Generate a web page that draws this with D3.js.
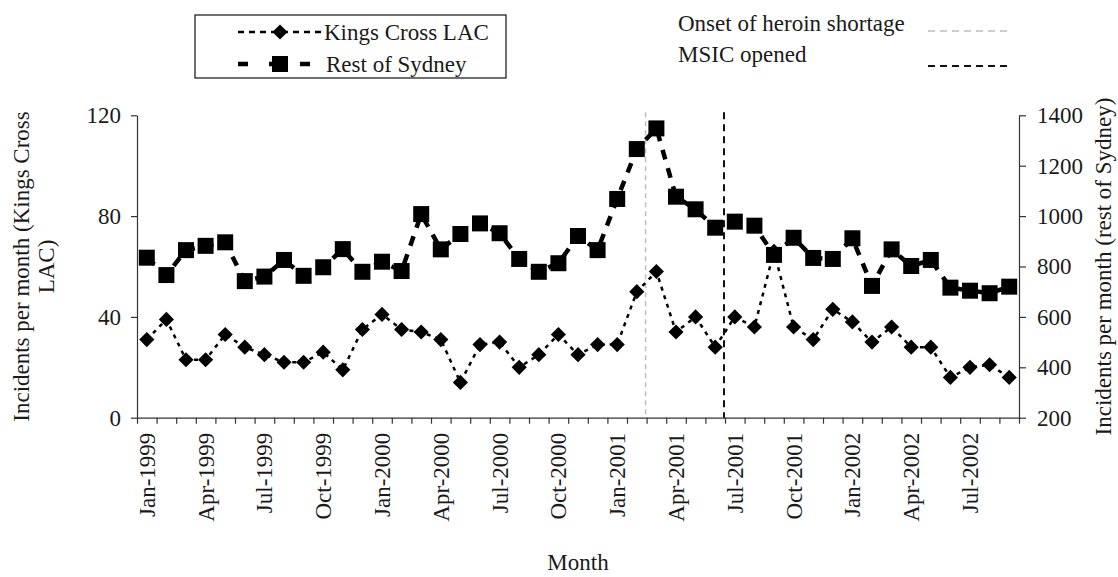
<!DOCTYPE html>
<html>
<head>
<meta charset="utf-8">
<script src="https://cdn.jsdelivr.net/npm/d3@7/dist/d3.min.js"></script>
<style>
body { margin: 0; background: #fff; }
svg { display: block; }
text { font-family: 'Liberation Serif', 'Times New Roman', serif; font-size: 23px; fill: #1a1a1a; }
</style>
</head>
<body>
<script>
(function(){
'use strict';

var months = ['Jan-1999','Feb-1999','Mar-1999','Apr-1999','May-1999','Jun-1999','Jul-1999','Aug-1999','Sep-1999','Oct-1999','Nov-1999','Dec-1999',
			'Jan-2000','Feb-2000','Mar-2000','Apr-2000','May-2000','Jun-2000','Jul-2000','Aug-2000','Sep-2000','Oct-2000','Nov-2000','Dec-2000',
			'Jan-2001','Feb-2001','Mar-2001','Apr-2001','May-2001','Jun-2001','Jul-2001','Aug-2001','Sep-2001','Oct-2001','Nov-2001','Dec-2001',
			'Jan-2002','Feb-2002','Mar-2002','Apr-2002','May-2002','Jun-2002','Jul-2002','Aug-2002','Sep-2002'];

// left axis series
var kingsCross = [31, 39, 23, 23, 33, 28, 25, 22, 22, 26, 19, 35,
				41, 35, 34, 31, 14, 29, 30, 20, 25, 33, 25, 29,
				29, 50, 58, 34, 40, 28, 40, 36, 66, 36, 31, 43,
				38, 30, 36, 28, 28, 16, 20, 21, 16];

// right axis series
var restOfSydney = [835, 766, 865, 882, 896, 742, 760, 826, 763, 797, 869, 779,
					819, 782, 1008, 868, 929, 971, 932, 830, 779, 813, 921, 865,
					1068, 1266, 1348, 1077, 1027, 954, 978, 962, 846, 914, 834, 830,
					912, 723, 868, 802, 826, 716, 704, 694, 720];

var leftTicks = [0, 40, 80, 120];
var rightTicks = [200, 400, 600, 800, 1000, 1200, 1400];
var labelMonths = months.filter(function(m, i){ return i % 3 === 0; });

// event lines sit on the tick before the month
var events = [
	{'name': 'Onset of heroin shortage', 'month': 'Mar-2001', 'color': '#bdbdbd'},
	{'name': 'MSIC opened', 'month': 'Jul-2001', 'color': '#111'}
];

var width = 1118;
var height = 577;
var plot = {left: 137, right: 1019, top: 115.3, bottom: 417.7};

var svg = d3.select('body').append('svg')
			.attr('width', width)
			.attr('height', height);

var x = d3.scaleBand().domain(months).range([plot.left, plot.right]).padding(0);
var xTick = d3.scaleLinear().domain([0, months.length]).range([plot.left, plot.right]);
var yLeft = d3.scaleLinear().domain([0, 120]).range([plot.bottom, plot.top]);
var yRight = d3.scaleLinear().domain([200, 1400]).range([plot.bottom, plot.top]);

function cx(d, i){ return x(months[i]) + x.bandwidth() / 2; }

// axes
var gLeft = svg.append('g')
	.attr('transform', 'translate(' + plot.left + ',0)')
	.call(d3.axisLeft(yLeft).tickValues(leftTicks).tickSize(6).tickSizeOuter(0).tickPadding(10));

var gRight = svg.append('g')
	.attr('transform', 'translate(' + plot.right + ',0)')
	.call(d3.axisRight(yRight).tickValues(rightTicks).tickFormat(d3.format('d')).tickSize(7).tickSizeOuter(0).tickPadding(11));

var gTicks = svg.append('g')
	.attr('transform', 'translate(0,' + plot.bottom + ')')
	.call(d3.axisBottom(xTick).tickValues(d3.range(months.length + 1)).tickSize(6).tickSizeOuter(0).tickFormat(''));

var gLabels = svg.append('g')
	.attr('transform', 'translate(0,' + plot.bottom + ')')
	.call(d3.axisBottom(x).tickValues(labelMonths).tickSize(0));
gLabels.select('.domain').remove();
gLabels.selectAll('text')
	.attr('transform', 'rotate(-90)')
	.attr('text-anchor', 'end')
	.attr('x', -15)
	.attr('y', 0)
	.attr('dy', '0.35em');

[gLeft, gRight, gTicks, gLabels].forEach(function(g){
	g.selectAll('text').attr('font-family', null).attr('font-size', null).attr('fill', '#1a1a1a');
	g.selectAll('.domain, line').attr('stroke', '#333').attr('stroke-width', 1.2);
});

// event lines
svg.selectAll('line.event')
	.data(events)
	.enter()
	.append('line')
	.attr('class', 'event')
	.attr('x1', function(d){ return x(d.month) - 1; })
	.attr('x2', function(d){ return x(d.month) - 1; })
	.attr('y1', plot.top - 3)
	.attr('y2', plot.bottom)
	.attr('stroke', function(d){ return d.color; })
	.attr('stroke-width', function(d, i){ return i === 0 ? 1.5 : 2; })
	.attr('stroke-dasharray', function(d, i){ return i === 0 ? '5,4' : '7,5'; });

// Kings Cross series
var kcLine = d3.line()
	.x(cx)
	.y(function(d){ return yLeft(d); });

svg.append('path')
	.datum(kingsCross)
	.attr('d', kcLine)
	.attr('fill', 'none')
	.attr('stroke', '#000')
	.attr('stroke-width', 2.5)
	.attr('stroke-dasharray', '4,5');

var diamond = d3.symbol().type(d3.symbolSquare).size(115);

svg.selectAll('path.kc')
	.data(kingsCross)
	.enter()
	.append('path')
	.attr('class', 'kc')
	.attr('d', diamond)
	.attr('transform', function(d, i){ return 'translate(' + cx(d, i) + ',' + yLeft(d) + ') rotate(45)'; })
	.attr('fill', '#000');

// Rest of Sydney series
var rsLine = d3.line()
	.x(cx)
	.y(function(d){ return yRight(d); });

svg.append('path')
	.datum(restOfSydney)
	.attr('d', rsLine)
	.attr('fill', 'none')
	.attr('stroke', '#000')
	.attr('stroke-width', 4.5)
	.attr('stroke-dasharray', '10,9');

var square = d3.symbol().type(d3.symbolSquare).size(256);

svg.selectAll('path.rs')
	.data(restOfSydney)
	.enter()
	.append('path')
	.attr('class', 'rs')
	.attr('d', square)
	.attr('transform', function(d, i){ return 'translate(' + cx(d, i) + ',' + yRight(d) + ')'; })
	.attr('fill', '#000');

// axis titles
var leftTitle = svg.append('text')
	.attr('transform', 'translate(0,' + ((plot.top + plot.bottom) / 2) + ') rotate(-90)')
	.attr('text-anchor', 'middle');
leftTitle.append('tspan').attr('x', 0).attr('y', 29).text('Incidents per month (Kings Cross');
leftTitle.append('tspan').attr('x', 0).attr('y', 54).text('LAC)');

svg.append('text')
	.attr('transform', 'translate(1111,' + ((plot.top + plot.bottom) / 2) + ') rotate(-90)')
	.attr('text-anchor', 'middle')
	.text('Incidents per month (rest of Sydney)');

svg.append('text')
	.attr('x', (plot.left + plot.right) / 2)
	.attr('y', 570)
	.attr('text-anchor', 'middle')
	.text('Month');

// series legend
var legend = svg.append('g');
legend.append('rect')
	.attr('x', 195).attr('y', 15)
	.attr('width', 311).attr('height', 63)
	.attr('fill', '#fff')
	.attr('stroke', '#111')
	.attr('stroke-width', 1.2);

var kcKey = legend.append('g').attr('transform', 'translate(0,32)');
kcKey.append('line').attr('x1', 238).attr('x2', 322).attr('y1', 0).attr('y2', 0)
	.attr('stroke', '#000').attr('stroke-width', 2.5).attr('stroke-dasharray', '6,5');
kcKey.append('path').attr('d', diamond).attr('transform', 'translate(280,0) rotate(45)').attr('fill', '#000');
kcKey.append('text').attr('x', 324).attr('dy', '0.35em').text('Kings Cross LAC');

var rsKey = legend.append('g').attr('transform', 'translate(0,64)');
rsKey.append('line').attr('x1', 238).attr('x2', 322).attr('y1', 0).attr('y2', 0)
	.attr('stroke', '#000').attr('stroke-width', 4.5).attr('stroke-dasharray', '10,21');
rsKey.append('path').attr('d', square).attr('transform', 'translate(280,0)').attr('fill', '#000');
rsKey.append('text').attr('x', 326).attr('dy', '0.35em').text('Rest of Sydney');

// event legend
var evKey = svg.selectAll('g.evkey')
	.data(events)
	.enter()
	.append('g')
	.attr('class', 'evkey');
evKey.append('text')
	.attr('x', 678)
	.attr('y', function(d, i){ return i === 0 ? 31 : 62; })
	.text(function(d){ return d.name; });
evKey.append('line')
	.attr('x1', 928).attr('x2', 1012)
	.attr('y1', function(d, i){ return i === 0 ? 31 : 66; })
	.attr('y2', function(d, i){ return i === 0 ? 31 : 66; })
	.attr('stroke', function(d){ return d.color; })
	.attr('stroke-width', function(d, i){ return i === 0 ? 1.5 : 2; })
	.attr('stroke-dasharray', '7,5');

})();
</script>
</body>
</html>
